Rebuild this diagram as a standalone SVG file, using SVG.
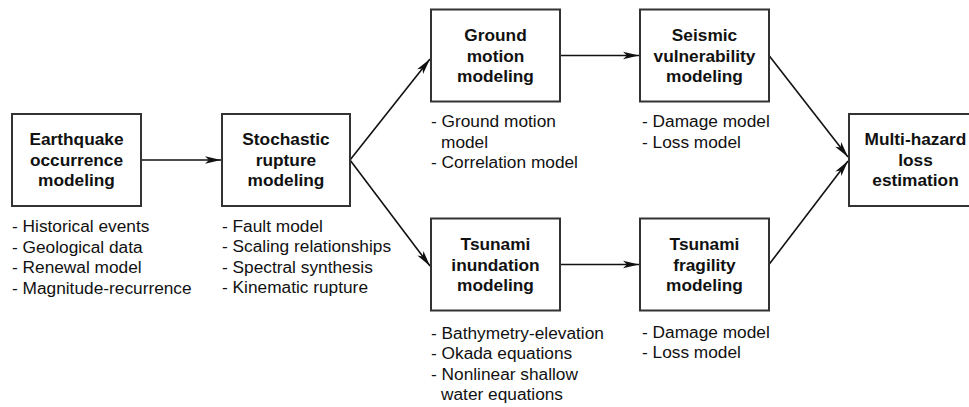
<svg xmlns="http://www.w3.org/2000/svg" width="969" height="407" viewBox="0 0 969 407">
<defs>
<style>
.box{fill:#fff;stroke:#333;stroke-width:2}
.t{font-family:"Liberation Sans",Arial,Helvetica,sans-serif;font-size:17.3px;font-weight:bold;fill:#111;text-anchor:middle}
.l{font-family:"Liberation Sans",Arial,Helvetica,sans-serif;font-size:17.3px;fill:#111}
.c{fill:none;stroke:#111;stroke-width:1.6}
</style>
<marker id="ah" markerUnits="userSpaceOnUse" markerWidth="20" markerHeight="12" viewBox="0 -6 18 12" refX="16" refY="0" orient="auto">
<path d="M0,-3.8 L16,0 L0,3.8 L4,0 z" fill="#111"/>
</marker>
</defs>
<rect width="969" height="407" fill="#fff"/>
<g id="connectors">
<line class="c" x1="141" y1="160" x2="221" y2="160" marker-end="url(#ah)"/>
<line class="c" x1="350" y1="160" x2="430" y2="59" marker-end="url(#ah)"/>
<line class="c" x1="350" y1="160" x2="430" y2="266" marker-end="url(#ah)"/>
<line class="c" x1="560" y1="55.5" x2="639" y2="55.5" marker-end="url(#ah)"/>
<line class="c" x1="560" y1="264.5" x2="639" y2="264.5" marker-end="url(#ah)"/>
<line class="c" x1="769" y1="55.5" x2="848" y2="157" marker-end="url(#ah)"/>
<line class="c" x1="769" y1="264.5" x2="848" y2="161" marker-end="url(#ah)"/>
</g>
<g id="earthquake">
<rect class="box" x="12" y="114" width="129" height="92"/>
<text class="t" x="76.5" y="145">Earthquake</text>
<text class="t" x="76.5" y="165.5">occurrence</text>
<text class="t" x="76.5" y="186">modeling</text>
<text class="l" x="12" y="232">- Historical events</text>
<text class="l" x="12" y="252.5">- Geological data</text>
<text class="l" x="12" y="273">- Renewal model</text>
<text class="l" x="12" y="293.5">- Magnitude-recurrence</text>
</g>
<g id="stochastic">
<rect class="box" x="222" y="114" width="128" height="92"/>
<text class="t" x="286" y="145">Stochastic</text>
<text class="t" x="286" y="165.5">rupture</text>
<text class="t" x="286" y="186">modeling</text>
<text class="l" x="222" y="231.5">- Fault model</text>
<text class="l" x="222" y="252">- Scaling relationships</text>
<text class="l" x="222" y="272.5">- Spectral synthesis</text>
<text class="l" x="222" y="293">- Kinematic rupture</text>
</g>
<g id="ground">
<rect class="box" x="431" y="9.5" width="129" height="92"/>
<text class="t" x="495.5" y="41">Ground</text>
<text class="t" x="495.5" y="61.5">motion</text>
<text class="t" x="495.5" y="82">modeling</text>
<text class="l" x="431" y="127">- Ground motion</text>
<text class="l" x="441" y="147.5">model</text>
<text class="l" x="431" y="168">- Correlation model</text>
</g>
<g id="seismic">
<rect class="box" x="640" y="9.5" width="129" height="92"/>
<text class="t" x="704.5" y="41">Seismic</text>
<text class="t" x="704.5" y="61.5">vulnerability</text>
<text class="t" x="704.5" y="82">modeling</text>
<text class="l" x="642" y="127">- Damage model</text>
<text class="l" x="642" y="147.5">- Loss model</text>
</g>
<g id="multihazard">
<rect class="box" x="849" y="114" width="133" height="92"/>
<text class="t" x="915.5" y="145">Multi-hazard</text>
<text class="t" x="915.5" y="165.5">loss</text>
<text class="t" x="915.5" y="186">estimation</text>
</g>
<g id="tsunami-inundation">
<rect class="box" x="431" y="218.5" width="129" height="92"/>
<text class="t" x="495.5" y="250">Tsunami</text>
<text class="t" x="495.5" y="270.5">inundation</text>
<text class="t" x="495.5" y="291">modeling</text>
<text class="l" x="431" y="338.5">- Bathymetry-elevation</text>
<text class="l" x="431" y="359">- Okada equations</text>
<text class="l" x="431" y="379.5">- Nonlinear shallow</text>
<text class="l" x="441" y="400">water equations</text>
</g>
<g id="tsunami-fragility">
<rect class="box" x="640" y="218.5" width="129" height="92"/>
<text class="t" x="704.5" y="250">Tsunami</text>
<text class="t" x="704.5" y="270.5">fragility</text>
<text class="t" x="704.5" y="291">modeling</text>
<text class="l" x="642" y="337.5">- Damage model</text>
<text class="l" x="642" y="358">- Loss model</text>
</g>
</svg>
